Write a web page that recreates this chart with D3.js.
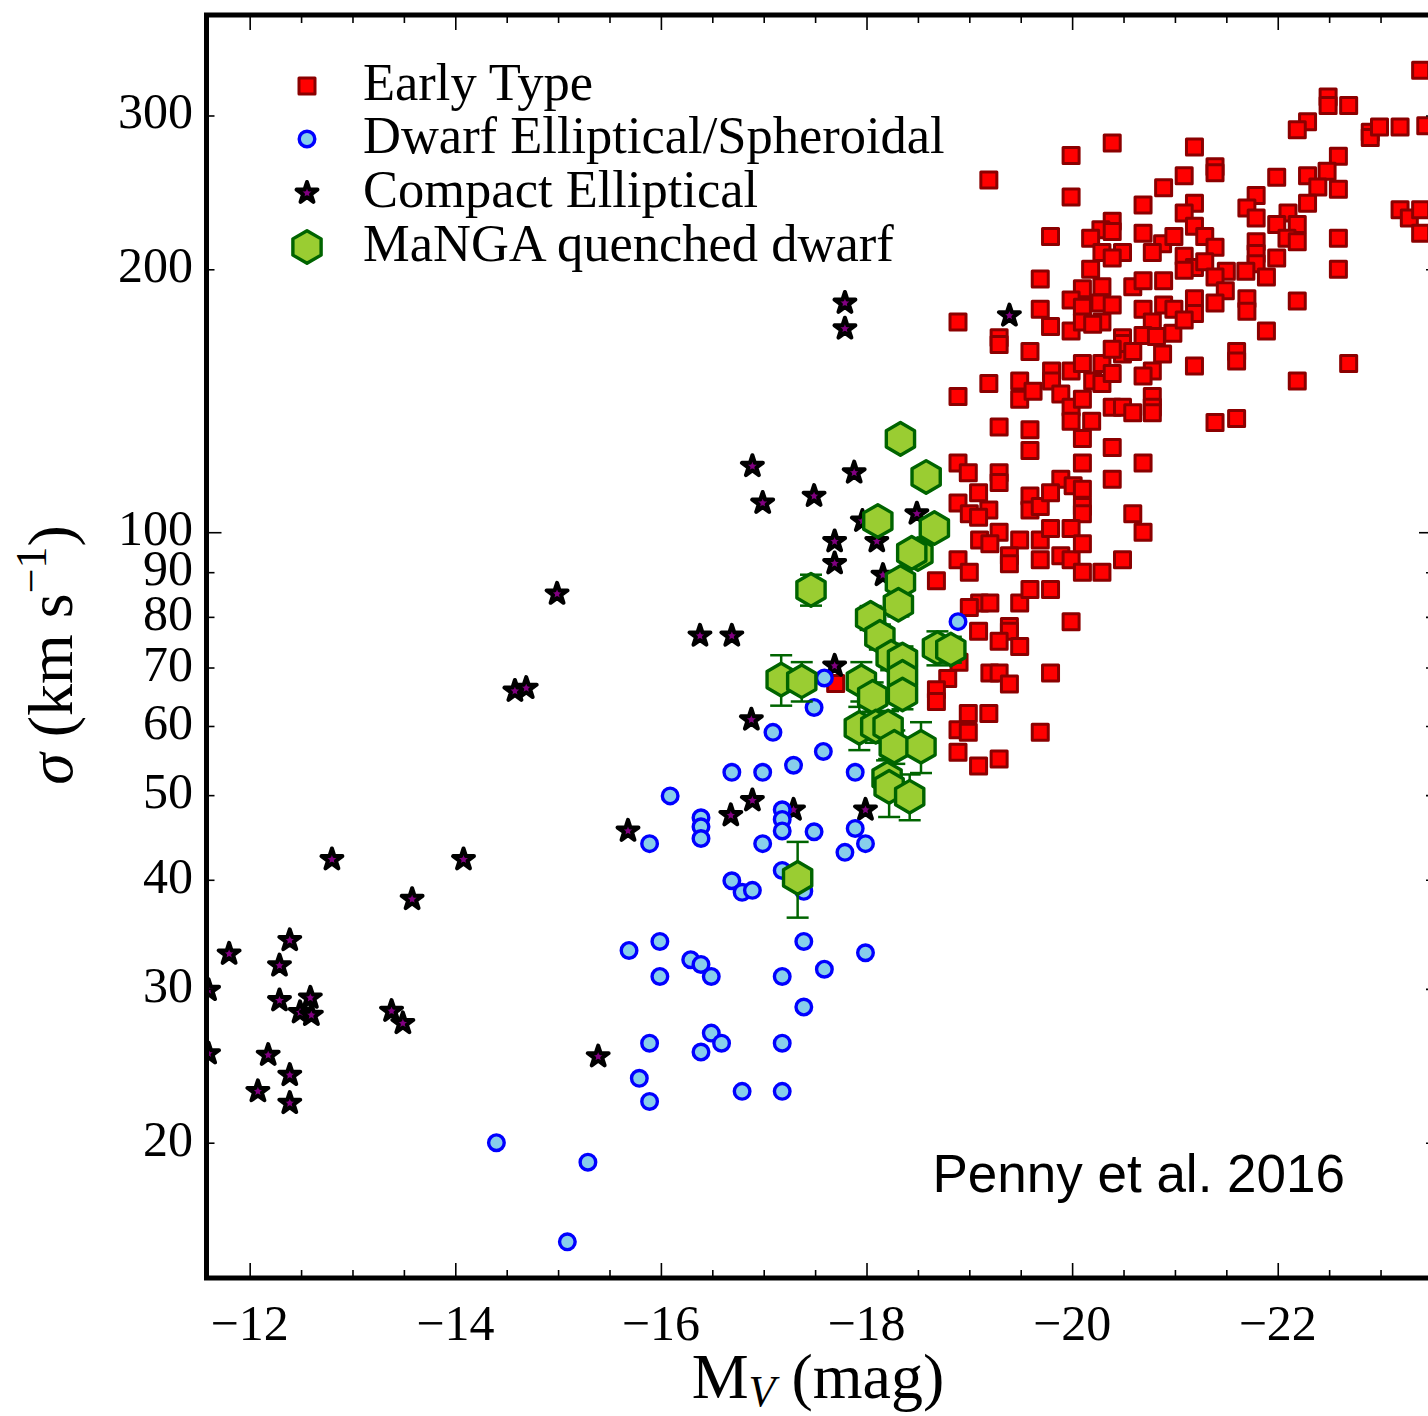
<!DOCTYPE html>
<html><head><meta charset="utf-8">
<script src="https://cdn.jsdelivr.net/npm/d3@7"></script>
<style>body{margin:0;background:#fff}svg{display:block}</style>
</head><body>
<svg id="c" width="1428" height="1416"></svg>
<script>
// ---------------- DATA (M_V in mag, sigma in km/s) ----------------
const earlyType = [
[-20.39,279],[-19.99,270],[-19.19,253],[-19.99,242],[-20.89,248],[-20.69,237],
[-20.39,227],[-19.79,218],[-20.28,222],[-20.18,217],[-20.39,221],[-20.69,220],[-20.88,214],[-20.99,218],
[-20.29,209],[-20.49,209],[-20.78,209],[-20.39,206],[-20.18,200],[-19.69,195],
[-20.10,190],[-20.29,191],[-20.59,191],[-20.69,194],[-20.89,194],
[-19.99,184.5],[-19.69,180],[-20.10,181],[-20.27,183],[-20.39,182],[-20.69,180],[-20.89,182],
[-18.89,174],[-19.79,172],[-19.99,170],[-20.10,174],[-20.29,174],[-20.78,174],
[-19.29,167],[-20.49,167],[-20.69,168],[-20.82,167.5],[-20.98,169],
[-23.39,338],[-22.49,315],[-22.49,308],[-22.69,308],[-22.29,295],[-22.19,289],[-22.90,287],[-22.90,283],[-22.99,291],[-23.19,291],[-23.44,292],
[-21.19,276],[-21.39,262],[-21.39,258],[-21.09,256],
[-22.59,269.5],[-21.99,255],[-22.29,256],[-22.48,259],[-22.39,248.5],[-22.59,247],
[-21.19,238],[-21.09,232],[-21.79,243],[-21.70,235],[-21.79,229],[-22.29,238],[-22.10,232],[-21.99,225],[-22.19,225],[-21.19,224],
[-21.29,218],[-21.39,212],[-21.09,207],[-21.19,201],[-21.09,199.5],[-21.29,204],
[-21.79,215],[-21.79,208.5],[-21.79,203],[-22.09,217],[-22.19,215],[-21.99,206],[-21.89,196],[-21.69,199],[-21.50,199],[-21.39,196],
[-21.49,189],[-21.39,183],[-21.19,185],[-21.19,178],[-20.99,180],[-21.09,175],
[-21.70,185],[-21.70,179],[-21.89,170],[-22.59,217],[-22.59,200],[-22.19,184],
[-23.19,234],[-23.28,229],[-23.39,234],[-23.39,220],
[-21.19,155],[-21.60,161],[-21.60,157],[-22.19,149],[-22.69,156],[-21.39,133.5],[-21.60,135],
[-19.29,164],[-19.59,161],[-20.20,173],
[-19.19,148],[-18.89,143],[-19.49,149],[-19.49,142],[-19.62,145],[-19.80,153],[-19.80,149],[-19.99,153],[-20.10,156],[-19.89,144],[-20.20,149],[-20.29,156],[-20.29,148],[-20.39,152],[-20.49,160],[-20.49,164.5],[-20.39,162],[-20.59,161],
[-20.88,160],[-20.78,153],[-20.69,151],
[-19.99,139],[-20.10,142],[-19.99,134],[-20.19,134],[-20.10,128],[-20.39,139],[-20.49,139],[-20.59,137],[-20.78,143],[-20.78,139],[-20.78,137],
[-19.29,132],[-19.59,131],[-19.59,124],[-20.10,120],[-20.39,125],[-20.69,120],[-20.39,115],
[-18.89,120],[-18.99,117],[-19.29,117],[-19.29,114],[-19.09,111],[-18.89,108],[-19.00,105],[-19.19,106],[-19.09,104],
[-19.89,115],[-20.01,113],[-20.10,112],[-20.10,107],[-20.10,105],[-19.59,110],[-19.59,106],[-19.69,107],[-19.79,111],
[-19.29,100],[-19.10,98],[-19.20,97],[-19.49,98],[-19.39,94],[-19.39,92],[-19.69,98],[-19.69,93],[-19.79,101],[-19.89,94],[-19.99,101],[-19.99,93],[-20.10,97],[-20.10,90],[-20.29,90],[-20.49,93],[-20.59,105],[-20.69,100],
[-18.89,93],[-19.00,90],[-18.68,88],[-19.10,83],[-19.00,82],[-19.20,83],[-19.49,83],[-19.59,86],[-19.79,86],[-19.99,79],
[-19.09,77],[-19.39,78],[-19.39,77],[-19.29,75],[-19.49,74],[-18.90,71],[-18.79,68],[-18.68,66],[-18.68,64],[-19.20,69],[-19.29,69],[-19.39,67],[-19.79,69],
[-18.99,62],[-19.19,62],[-18.89,59.4],[-18.99,59],[-18.89,56],[-19.69,59],[-19.29,55],[-19.09,54],
[-17.70,67.1]
];

const compactElliptical = [
[-17.79,183],[-17.79,171],[-19.39,177],
[-16.89,119],[-16.99,108],[-17.88,117],[-17.49,110],
[-18.49,105],[-17.69,97.6],[-17.69,92.1],[-17.96,103],[-18.10,97.6],[-18.16,89.3],
[-14.99,85],[-16.38,76.1],[-16.69,76.1],[-14.58,65.8],[-14.69,66.3],[-17.69,70.3],[-16.88,61.0],
[-15.68,45.5],[-16.68,47.4],[-16.89,49.3],[-17.29,48.1],[-17.99,48.1],
[-12.80,42.2],[-14.08,42.2],[-13.58,38.0],
[-11.80,32.9],[-12.39,34.1],[-12.29,31.9],[-11.60,29.9],[-12.29,29.1],[-12.59,29.3],[-12.49,28.2],[-12.60,28.0],[-13.38,28.3],[-13.49,27.4],
[-11.60,25.3],[-12.18,25.2],[-12.39,23.9],[-12.08,22.9],[-12.39,22.2],[-15.39,25.1]
];

const dwarfElliptical = [
[-18.89,79],[-17.59,68.1],[-17.49,63.0],[-17.09,59.0],[-17.58,56.1],[-17.29,54.1],[-16.69,53.1],[-16.99,53.1],[-17.89,53.1],
[-16.09,49.9],[-16.39,47.1],[-16.39,46.0],[-16.39,44.6],[-15.89,44.0],[-17.18,48.1],[-17.18,46.9],[-17.18,45.5],[-17.49,45.4],
[-17.89,45.8],[-17.99,44.0],[-17.79,43.0],[-16.99,44.0],[-17.18,41.0],[-16.69,39.9],[-16.79,38.7],[-16.89,38.9],[-17.39,38.8],
[-15.69,33.2],[-15.99,34.0],[-16.29,32.4],[-16.39,32.0],[-16.49,31.0],[-15.99,31.0],[-17.18,31.0],[-17.39,34.0],[-17.59,31.6],[-17.99,33.0],
[-17.39,28.6],[-15.89,26.0],[-16.49,26.7],[-16.59,26.0],[-16.39,25.4],[-17.18,26.0],[-15.79,23.7],[-15.89,22.3],[-16.79,22.9],[-17.18,22.9],
[-14.40,20.0],[-15.29,19.0],[-15.09,15.4]
];

// [M_V, sigma, sigma error]
const mangaDwarf = [
[-18.33,127.9,2],[-18.58,115.7,2],[-18.11,103.0,2.5],[-18.66,101.1,2.5],[-18.50,94.4,2],[-18.44,94.7,2],
[-18.33,87.7,2.5],[-17.46,85.9,3.5],[-18.31,82.6,2.5],[-18.04,79.8,2.5],[-18.13,75.9,2.5],[-18.24,72.0,2.5],
[-18.35,71.5,2.5],[-18.35,68.3,2.5],[-18.35,65.2,2.5],[-17.17,67.8,4.5],[-17.37,67.5,3.5],[-17.95,67.5,3.5],
[-18.06,64.8,2.5],[-18.69,73.7,3.3],[-18.82,73.4,2.5],[-17.93,59.7,3.4],[-18.09,59.9,2.5],[-18.21,59.9,2.5],
[-18.27,56.8,2.5],[-18.53,56.8,3.8],[-18.20,52.3,2.5],[-18.22,51.1,3.9],[-18.42,49.8,3],[-17.33,40.2,4]
];

const xMajorTicks = [-12,-14,-16,-18,-20,-22,-24];
const xMinorTicks = [-12.5,-13,-13.5,-14.5,-15,-15.5,-16.5,-17,-17.5,-18.5,-19,-19.5,-20.5,-21,-21.5,-22.5,-23,-23.5];
const yMajorTicks = [100];
const yMinorTicks = [20,30,40,50,60,70,80,90,200,300];
const yTickLabels = [20,30,40,50,60,70,80,90,100,200,300];
const legendLabels = ["Early Type","Dwarf Elliptical/Spheroidal","Compact Elliptical","MaNGA quenched dwarf"];
const creditText = "Penny et al. 2016";

// ---------------- CHART ----------------
const svg = d3.select("#c");
const L = 206.5, R = 1434, T = 15, B = 1278;
const x = d3.scaleLinear().domain([-11.58,-23.52]).range([L,R]);
const y = d3.scaleLog().domain([14,391]).range([B,T]);
const serif = "'Liberation Serif','Times New Roman','DejaVu Serif',serif";

svg.append("defs").append("clipPath").attr("id","plot")
  .append("rect").attr("x",L).attr("y",T).attr("width",R-L).attr("height",B-T);

const hexType = {draw(ctx,size){const r=Math.sqrt(size);for(let i=0;i<6;i++){const a=-Math.PI/2+i*Math.PI/3;const px=r*Math.cos(a),py=r*Math.sin(a);if(i===0)ctx.moveTo(px,py);else ctx.lineTo(px,py);}ctx.closePath();}};
const squareType = {draw(ctx,size){const h=Math.sqrt(size)/2;ctx.moveTo(-h,-h);ctx.lineTo(h,-h);ctx.lineTo(h,h);ctx.lineTo(-h,h);ctx.closePath();}};

const styles = {
  square: {path: d3.symbol().type(squareType).size(16*16)(), fill:"#ff0000", stroke:"#8b0000", sw:3},
  circle: {path: d3.symbol().type(d3.symbolCircle).size(Math.PI*7.8*7.8)(), fill:"#87ceeb", stroke:"#0000ff", sw:3.4},
  star:   {path: d3.symbol().type(d3.symbolStar).size(11*11/0.8908130915292852)(), fill:"#800080", stroke:"#000000", sw:4},
  hex:    {path: d3.symbol().type(hexType).size(16.3*16.3)(), fill:"#9acd32", stroke:"#006400", sw:3.4}
};

const plot = svg.append("g").attr("clip-path","url(#plot)");

function drawMarks(data, st){
  plot.append("g").selectAll("path").data(data).join("path")
    .attr("d", st.path)
    .attr("transform", d => `translate(${x(d[0])},${y(d[1])})`)
    .attr("fill", st.fill).attr("stroke", st.stroke).attr("stroke-width", st.sw)
    .attr("stroke-linejoin","round");
}
drawMarks(earlyType, styles.square);
drawMarks(compactElliptical, styles.star);
drawMarks(dwarfElliptical, styles.circle);

// error bars
const eb = plot.append("g").attr("stroke","#006400").attr("stroke-width",2.5).attr("fill","none");
eb.selectAll("line.v").data(mangaDwarf).join("line").attr("class","v")
  .attr("x1",d=>x(d[0])).attr("x2",d=>x(d[0])).attr("y1",d=>y(d[1]-d[2])).attr("y2",d=>y(d[1]+d[2]));
eb.selectAll("line.t").data(mangaDwarf).join("line").attr("class","t")
  .attr("x1",d=>x(d[0])-11).attr("x2",d=>x(d[0])+11).attr("y1",d=>y(d[1]+d[2])).attr("y2",d=>y(d[1]+d[2]));
eb.selectAll("line.b").data(mangaDwarf).join("line").attr("class","b")
  .attr("x1",d=>x(d[0])-11).attr("x2",d=>x(d[0])+11).attr("y1",d=>y(d[1]-d[2])).attr("y2",d=>y(d[1]-d[2]));
drawMarks(mangaDwarf, styles.hex);

// axes ticks (inward)
function ticks(axis, tr){
  const g = svg.append("g").attr("transform",tr).call(axis);
  g.select(".domain").remove();
  g.selectAll("line").attr("stroke","#000").attr("stroke-width",1.6);
  g.selectAll("text").remove();
}
ticks(d3.axisBottom(x).tickValues(xMajorTicks).tickSize(-15), `translate(0,${B})`);
ticks(d3.axisBottom(x).tickValues(xMinorTicks).tickSize(-8), `translate(0,${B})`);
ticks(d3.axisTop(x).tickValues(xMajorTicks).tickSize(-15), `translate(0,${T})`);
ticks(d3.axisTop(x).tickValues(xMinorTicks).tickSize(-8), `translate(0,${T})`);
ticks(d3.axisLeft(y).tickValues(yMajorTicks).tickSize(-15), `translate(${L},0)`);
ticks(d3.axisLeft(y).tickValues(yMinorTicks).tickSize(-8), `translate(${L},0)`);
ticks(d3.axisRight(y).tickValues(yMajorTicks).tickSize(-15), `translate(${R},0)`);
ticks(d3.axisRight(y).tickValues(yMinorTicks).tickSize(-8), `translate(${R},0)`);

// frame
svg.append("rect").attr("x",L).attr("y",T).attr("width",R-L).attr("height",B-T)
  .attr("fill","none").attr("stroke","#000").attr("stroke-width",5);

// tick labels
svg.append("g").selectAll("text").data(xMajorTicks.filter(v=>v>=-22)).join("text")
  .attr("x",d=>x(d)).attr("y",1340).attr("text-anchor","middle")
  .attr("font-family",serif).attr("font-size",50)
  .text(d=>"\u2212"+Math.abs(d));
svg.append("g").selectAll("text").data(yTickLabels).join("text")
  .attr("x",193).attr("y",d=>y(d)+13).attr("text-anchor","end")
  .attr("font-family",serif).attr("font-size",50)
  .text(d=>d);

// axis labels
const xl = svg.append("text").attr("x",818).attr("y",1398).attr("text-anchor","middle")
  .attr("font-family",serif).attr("font-size",64);
xl.append("tspan").text("M");
xl.append("tspan").attr("font-size",44).attr("font-style","italic").attr("dy",8).text("V");
xl.append("tspan").attr("dy",-8).text(" (mag)");

const yl = svg.append("text").attr("transform","translate(72,655) rotate(-90)").attr("text-anchor","middle")
  .attr("font-family",serif).attr("font-size",64);
yl.append("tspan").attr("font-style","italic").text("σ");
yl.append("tspan").text(" (km s");
yl.append("tspan").attr("font-size",44).attr("dy",-26).text("\u22121");
yl.append("tspan").attr("dy",26).text(")");

// legend
const legendStyles = [styles.square, styles.circle, styles.star, styles.hex];
const legendBaselines = [100,153,207,261];
const lg = svg.append("g");
legendLabels.forEach((lab,i)=>{
  const st = legendStyles[i];
  lg.append("path").attr("d",st.path).attr("transform",`translate(307,${legendBaselines[i]-14})`)
    .attr("fill",st.fill).attr("stroke",st.stroke).attr("stroke-width",st.sw).attr("stroke-linejoin","round");
  lg.append("text").attr("x",363).attr("y",legendBaselines[i])
    .attr("font-family",serif).attr("font-size",52.5).text(lab);
});

// credit
svg.append("text").attr("x",1345).attr("y",1192).attr("text-anchor","end")
  .attr("font-family","'Liberation Sans',Arial,sans-serif").attr("font-size",53).text(creditText);
</script>
</body></html>
